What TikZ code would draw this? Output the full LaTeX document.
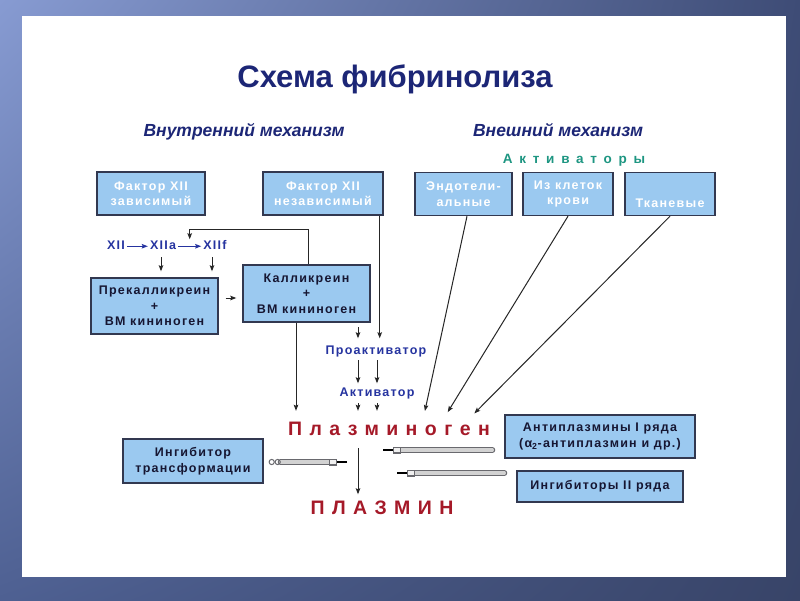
\documentclass[tikz,border=0pt]{standalone}
\usepackage{fontspec}
\setmainfont{Liberation Sans}
\newfontfamily\boxfont{Liberation Sans}[LetterSpace=10]
\newfontfamily\spacedfont{Liberation Sans}[LetterSpace=38]
\newfontfamily\actfont{Liberation Sans}[LetterSpace=50]
\usetikzlibrary{arrows.meta,calc,shadings}
\definecolor{boxfill}{RGB}{155,201,240}
\definecolor{boxline}{RGB}{50,56,80}
\definecolor{titleblue}{RGB}{28,38,118}
\definecolor{labelblue}{RGB}{38,52,160}
\definecolor{tealgreen}{RGB}{30,150,130}
\definecolor{plasmred}{RGB}{165,25,40}
\definecolor{darktext}{RGB}{22,22,50}
\definecolor{rodgray}{RGB}{105,105,110}
\definecolor{frameUL}{RGB}{135,155,210}
\definecolor{frameUR}{RGB}{62,76,118}
\definecolor{frameLL}{RGB}{78,96,146}
\definecolor{frameLR}{RGB}{56,68,104}

\begin{document}
\begin{tikzpicture}[x=1pt, y=-1pt, >={Stealth[length=6pt,width=4.5pt,inset=1pt]},
  box/.style={draw=boxline, line width=1.4pt, fill=boxfill, inner sep=0pt, align=center,
    font=\boxfont\bfseries\fontsize{12.5}{15.5}\selectfont},
  topbox/.style={box, text=white, minimum height=43pt},
  lowbox/.style={box, text=darktext},
  chemtext/.style={anchor=base, text=labelblue, inner sep=1pt, text height=9pt, text depth=2.5pt,
    font=\boxfont\bfseries\fontsize{12.5}{14}\selectfont},
  chemarrow/.style={->, draw=labelblue, line width=1pt, shorten <=1pt, shorten >=1pt},
  flow/.style={->, line width=1pt, draw=black!85},
  plasm/.style={anchor=base, text=plasmred, inner sep=1pt, text height=14pt, text depth=0pt,
    font=\spacedfont\bfseries\fontsize{19.5}{21}\selectfont}]

% Slide frame
\shade[upper left=frameUL, upper right=frameUR, lower left=frameLL, lower right=frameLR]
  (0,0) rectangle (800,600);
\fill[white] (22,16) rectangle (786,577);

% Headings
\node[anchor=base, text=titleblue, font=\bfseries\fontsize{31}{33}\selectfont] (title) at (395,87) {Схема фибринолиза};
\node[anchor=base, text=titleblue, font=\bfseries\itshape\fontsize{17.5}{19}\selectfont] (inner) at (244,136) {Внутренний механизм};
\node[anchor=base, text=titleblue, font=\bfseries\itshape\fontsize{17.5}{19}\selectfont] (outer) at (558,136) {Внешний механизм};
\node[anchor=base, text=tealgreen, font=\actfont\bfseries\fontsize{13.5}{15}\selectfont] (activ) at (574,163) {Активаторы};

% Top row
\node[topbox, minimum width=108pt] (f12d) at (151,193.5) {Фактор XII\\зависимый};
\node[topbox, minimum width=120pt] (f12i) at (323,193.5) {Фактор XII\\независимый};
\node[topbox, minimum width=97pt] (endo) at (463.5,194) {Эндотели-\\альные};
\node[topbox, minimum width=90pt] (blood) at (568,194) {Из клеток\\крови};
\node[topbox, minimum width=90pt] (tissue) at (670,194) {\strut\\Тканевые};

% Contact chain
\node[chemtext] (xii) at (116,249.5) {XII};
\node[chemtext] (xiia) at (163,249.5) {XIIa};
\node[chemtext] (xiif) at (215,249.5) {XIIf};
\draw[chemarrow] (xii) -- (xiia);
\draw[chemarrow] (xiia) -- (xiif);
\coordinate (fb) at ($(xiia.east)!0.5!(xiif.west)$);

\node[lowbox, minimum width=127pt, minimum height=56pt] (prek) at (154.5,306) {Прекалликреин\\+\\ВМ кининоген};
\node[lowbox, minimum width=127pt, minimum height=57pt] (kall) at (306.5,293.5) {Калликреин\\+\\ВМ кининоген};

\draw[flow, shorten <=4pt, shorten >=6pt] ([xshift=-2pt]xiia.south) -- ([xshift=-2pt]xiia.south |- prek.north);
\draw[flow, shorten <=4pt, shorten >=6pt] ([xshift=-3pt]xiif.south) -- ([xshift=-3pt]xiif.south |- prek.north);
\draw[flow] ([xshift=1.5pt]kall.north) -- ++(0,-35) -| ([yshift=7pt]fb);
\draw[flow, shorten <=7pt, shorten >=6pt] ([yshift=8pt]prek.east) -- ([yshift=8pt]prek.east -| kall.west);

% Activators
\node[chemtext] (proact) at (376,354.5) {Проактиватор};
\node[chemtext] (act) at (377,396.5) {Активатор};
\node[plasm] (plg) at (389,435) {Плазминоген};
\node[plasm] (plm) at (382,514) {ПЛАЗМИН};

\coordinate (pin) at (358,327);
\draw[flow, shorten >=6pt] (pin) -- (pin |- proact.north);
\draw[flow, shorten >=6pt] ([xshift=-4pt]f12i.south east) -- ([xshift=-4pt]f12i.south east |- proact.north);
\foreach \dx in {-18,1}
  \draw[flow, shorten <=2pt, shorten >=3pt] ([xshift=\dx pt]proact.south) -- ([xshift=\dx pt]proact.south |- act.north);
\foreach \dx in {-19,0}
  \draw[flow, shorten <=3pt, shorten >=9pt] ([xshift=\dx pt]act.south) -- ([xshift=\dx pt]act.south |- plg.north);
\draw[flow, shorten >=9pt] ([xshift=-10.5pt]kall.south) -- ([xshift=-10.5pt]kall.south |- plg.north);
\draw[flow, shorten >=9pt] ([xshift=3.5pt]endo.south) -- ([xshift=34pt]plg.north);
\draw[flow, shorten >=9pt] (blood.south) -- ([xshift=54pt]plg.north);
\draw[flow, shorten >=9pt] (tissue.south) -- ([xshift=79pt]plg.north);
\draw[flow, shorten <=12pt, shorten >=4.5pt] ([xshift=-31pt]plg.south) -- ([xshift=-31pt]plg.south |- plm.north);

% Inhibitors
\node[lowbox, minimum width=140pt, minimum height=44pt] (ingtr) at (193,461) {Ингибитор\\трансформации};
\node[lowbox, minimum width=190pt, minimum height=43pt] (antipl) at (600,436.5) {Антиплазмины I ряда\\(α\textsubscript{2}-антиплазмин и др.)};
\node[lowbox, minimum width=166pt, minimum height=31pt] (ing2) at (600,486.5) {Ингибиторы II ряда};

\coordinate (ib1) at ([xshift=17pt, yshift=-1pt]ingtr.east);
\coordinate (it1) at (347,462);
\coordinate (ib2) at ([xshift=-12pt, yshift=-13.5pt]antipl.west);
\coordinate (it2) at (383,450);
\coordinate (ib3) at ([xshift=-12pt, yshift=13.5pt]ing2.west);
\coordinate (it3) at (397,473);
\foreach \b/\t in {ib1/it1, ib2/it2, ib3/it3} {
  \draw[line width=6pt, rodgray, line cap=round] (\b) -- ($(\t)!16pt!(\b)$);
  \draw[line width=3.4pt, gray!35, line cap=round] (\b) -- ($(\t)!16pt!(\b)$);
  \draw[line width=7pt, rodgray] ($(\t)!10pt!(\b)$) -- ($(\t)!18pt!(\b)$);
  \draw[line width=4.6pt, gray!12] ($(\t)!10.8pt!(\b)$) -- ($(\t)!17.2pt!(\b)$);
  \draw[line width=1.6pt] (\t) -- ($(\t)!10pt!(\b)$);
}
\foreach \cx in {-9,-3}
  \draw[rodgray, line width=1pt] ([xshift=\cx pt]ib1) circle (2.6pt);
\end{tikzpicture}
\end{document}
